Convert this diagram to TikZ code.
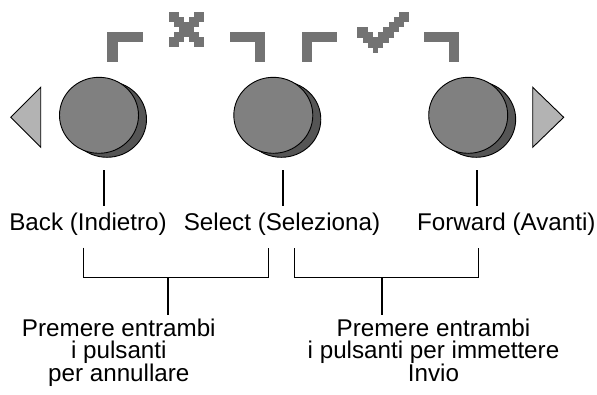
\documentclass[tikz,border=0pt]{standalone}
\usepackage{fontspec}
\setmainfont{Liberation Sans}
\usetikzlibrary{shapes.geometric,shadows}
\definecolor{markc}{HTML}{737373}
\definecolor{btnc}{HTML}{808080}
\definecolor{shadc}{HTML}{555555}
\definecolor{arrc}{HTML}{B3B3B3}
\begin{document}
\begin{tikzpicture}[x=1pt,y=-1pt,
  btn/.style={ellipse, minimum width=79pt, minimum height=76pt, inner sep=0pt,
    fill=btnc, draw=black, line width=0.9pt,
    copy shadow={shadow xshift=8pt, shadow yshift=-4pt, fill=shadc, draw=black, line width=0.9pt}},
  arrowtri/.style={fill=arrc, draw=black, line width=0.9pt, line join=miter},
  greyblock/.style={fill=markc},
  lbl/.style={font=\fontsize{24.2}{21.2}\selectfont, inner sep=0pt, anchor=base, align=center},
  conn/.style={draw=black, line width=1.6pt}]
\useasboundingbox (0,0) rectangle (597,394);

% top brackets
\fill[greyblock] (106.7,32.3) rectangle (117.7,62.3);
\fill[greyblock] (106.7,32.3) rectangle (142.7,41.8);
\fill[greyblock] (230,32.3) rectangle (265,41.8);
\fill[greyblock] (255,32.3) rectangle (265,62.3);
\fill[greyblock] (302,32.3) rectangle (312,62.3);
\fill[greyblock] (302,32.3) rectangle (337,41.8);
\fill[greyblock] (424.3,32.3) rectangle (459.3,41.8);
\fill[greyblock] (449.3,32.3) rectangle (459.3,62.3);

% X mark
\foreach \c/\r in {0/0,1/0,5/0,6/0, 0/1,1/1,2/1,4/1,5/1,6/1, 1/2,2/2,3/2,4/2,5/2,
  2/3,3/3,4/3, 1/4,2/4,3/4,4/4,5/4, 0/5,1/5,2/5,4/5,5/5,6/5, 0/6,1/6,5/6,6/6}
  \fill[greyblock] (169+\c*5,12.3+\r*5) rectangle ++(5.15,5.15);

% check mark
\foreach \c/\r in {8/0,9/0, 7/1,8/1,9/1, 6/2,7/2,8/2, 0/3,1/3,5/3,6/3,7/3,
  0/4,1/4,2/4,4/4,5/4,6/4, 1/5,2/5,3/5,4/5,5/5, 2/6,3/6,4/6, 3/7}
  \fill[greyblock] (357.3+\c*5.2,11.7+\r*5.13) rectangle ++(5.35,5.3);

% arrows
\draw[arrowtri] (10.7,117.3) -- (40.7,87.3) -- (40.7,147.3) -- cycle;
\draw[arrowtri] (563.7,117.3) -- (532.7,87.3) -- (532.7,147.3) -- cycle;

% buttons
\node[btn] (bback) at (99,115.3) {};
\node[btn] (bsel) at (273.3,115.3) {};
\node[btn] (bfwd) at (468.2,115.3) {};

% labels
\node[lbl] (tback) at (88,230.7) {Back (Indietro)};
\node[lbl] (tsel) at (282,230.7) {Select (Seleziona)};
\node[lbl] (tfwd) at (506.3,230.7) {Forward (Avanti)};
\node[lbl] (tcancel) at (118.8,381.7) {Premere entrambi\\i pulsanti\\per annullare};
\node[lbl] (tenter) at (433.5,381.7) {Premere entrambi\\i pulsanti per immettere\\Invio};

% leader lines
\coordinate (a1) at (104,170);   \coordinate (a2) at (104,205.7);
\coordinate (b1) at (282.7,170); \coordinate (b2) at (282.7,205.7);
\coordinate (c1) at (476.7,170); \coordinate (c2) at (476.7,205.7);
\draw[conn] (a1) -- (a2);
\draw[conn] (b1) -- (b2);
\draw[conn] (c1) -- (c2);

% lower brackets
\coordinate (l1) at (83.3,247.5);  \coordinate (l2) at (83.3,277.5);
\coordinate (l3) at (268.3,277.5); \coordinate (l4) at (268.3,247.5);
\coordinate (ls1) at (167.7,277.5); \coordinate (ls2) at (167.7,315);
\draw[conn, line join=miter] (l1) -- (l2) -- (l3) -- (l4);
\draw[conn] (ls1) -- (ls2);
\coordinate (r1) at (294.3,248);  \coordinate (r2) at (294.3,277.5);
\coordinate (r3) at (478.5,277.5); \coordinate (r4) at (478.5,248);
\coordinate (rs1) at (382,277.5); \coordinate (rs2) at (382,315);
\draw[conn, line join=miter] (r1) -- (r2) -- (r3) -- (r4);
\draw[conn] (rs1) -- (rs2);
\end{tikzpicture}
\end{document}
